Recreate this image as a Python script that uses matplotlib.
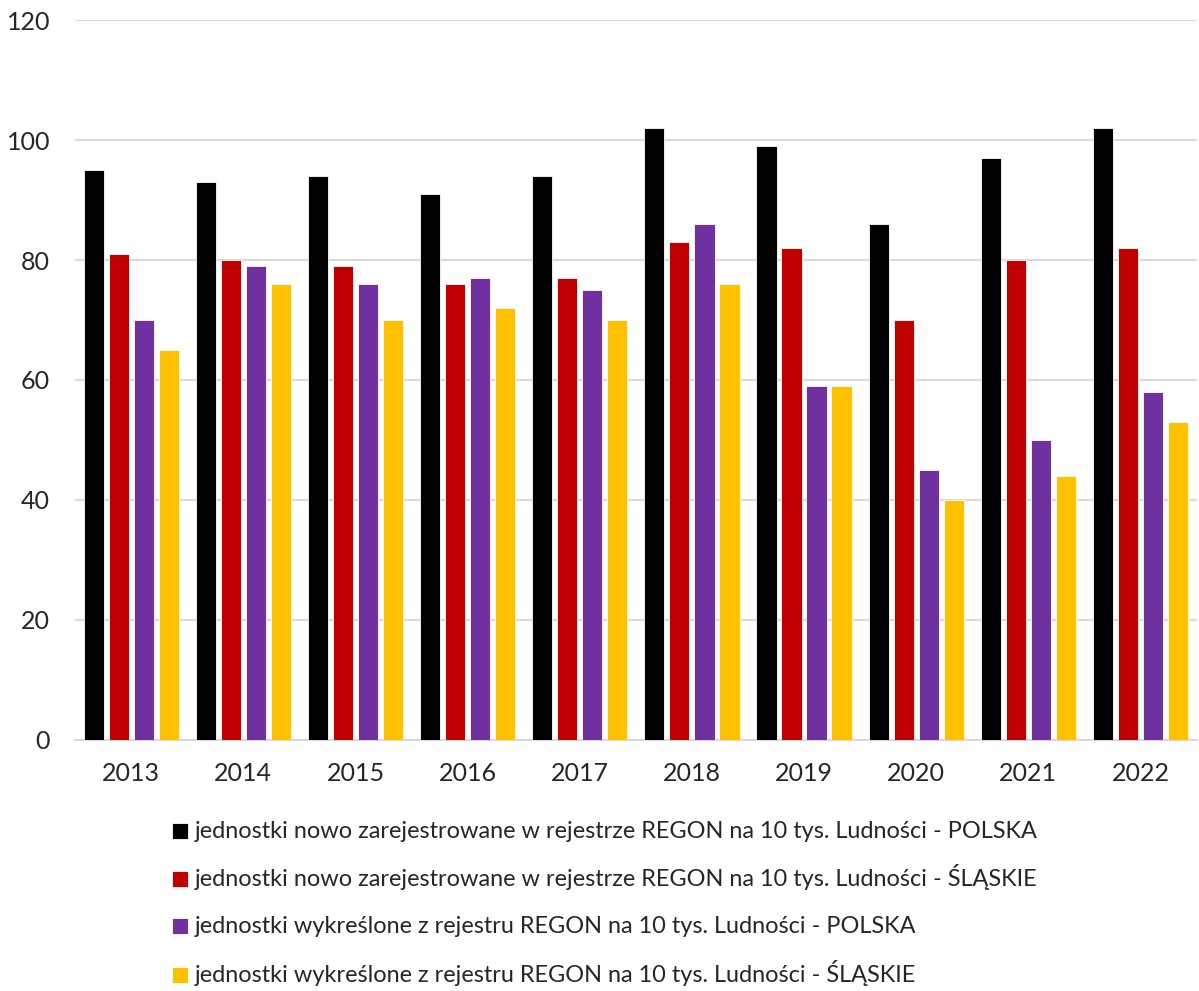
import matplotlib
matplotlib.use("Agg")
import matplotlib.pyplot as plt
import numpy as np
from matplotlib.patches import Rectangle

years = ["2013", "2014", "2015", "2016", "2017", "2018", "2019", "2020", "2021", "2022"]
nowe_polska = [95, 93, 94, 91, 94, 102, 99, 86, 97, 102]
nowe_slaskie = [81, 80, 79, 76, 77, 83, 82, 70, 80, 82]
wykr_polska = [70, 79, 76, 77, 75, 86, 59, 45, 50, 58]
wykr_slaskie = [65, 76, 70, 72, 70, 76, 59, 40, 44, 53]

labels = [
    "jednostki nowo zarejestrowane w rejestrze REGON na 10 tys. Ludności - POLSKA",
    "jednostki nowo zarejestrowane w rejestrze REGON na 10 tys. Ludności - ŚLĄSKIE",
    "jednostki wykreślone z rejestru REGON na 10 tys. Ludności - POLSKA",
    "jednostki wykreślone z rejestru REGON na 10 tys. Ludności - ŚLĄSKIE",
]
colors = ["#000000", "#C00000", "#7030A0", "#FFC000"]
series = [nowe_polska, nowe_slaskie, wykr_polska, wykr_slaskie]

plt.rcParams['font.family'] = ['Lato', 'DejaVu Sans']

W, H = 1199, 991
fig = plt.figure(figsize=(W / 100, H / 100), dpi=100)
ax = fig.add_axes([0.0626, 0.2533, 0.9354, 0.7265])

x = np.arange(len(years))
pitch = 0.223
bw = 0.18
for k, (vals, c) in enumerate(zip(series, colors)):
    ax.bar(x + (k - 1.5) * pitch, vals, width=bw, color=c, edgecolor="white",
           linewidth=0.6, zorder=3, label=labels[k])

ax.set_xlim(-0.5, len(years) - 0.5)
ax.set_ylim(0, 120)
ax.set_yticks(range(0, 121, 20))
ax.set_xticks(x)
ax.set_xticklabels(years)
ax.grid(axis="y", color="#d9d9d9", linewidth=1.5, zorder=0)
for s in ["top", "right", "left"]:
    ax.spines[s].set_visible(False)
ax.spines["bottom"].set_color("#d9d9d9")
ax.spines["bottom"].set_linewidth(1.5)
ax.tick_params(axis="both", length=0, labelsize=18, colors="#262626", pad=18)
ax.tick_params(axis="x", pad=16)

# legend drawn as rows below the chart
row_y = [831, 879, 926, 975]
for c, lab, yy in zip(colors, labels, row_y):
    fy = 1 - yy / H
    fig.patches.append(Rectangle((172 / W, fy - 8 / H), 16 / W, 16 / H,
                                 facecolor=c, edgecolor="white", linewidth=0.6,
                                 transform=fig.transFigure, figure=fig))
    fig.text(195 / W, 1 - (yy + 7) / H, lab, fontsize=16.9, color="#262626",
             va="baseline", ha="left")

fig.savefig("out.png", dpi=100, facecolor="white")
